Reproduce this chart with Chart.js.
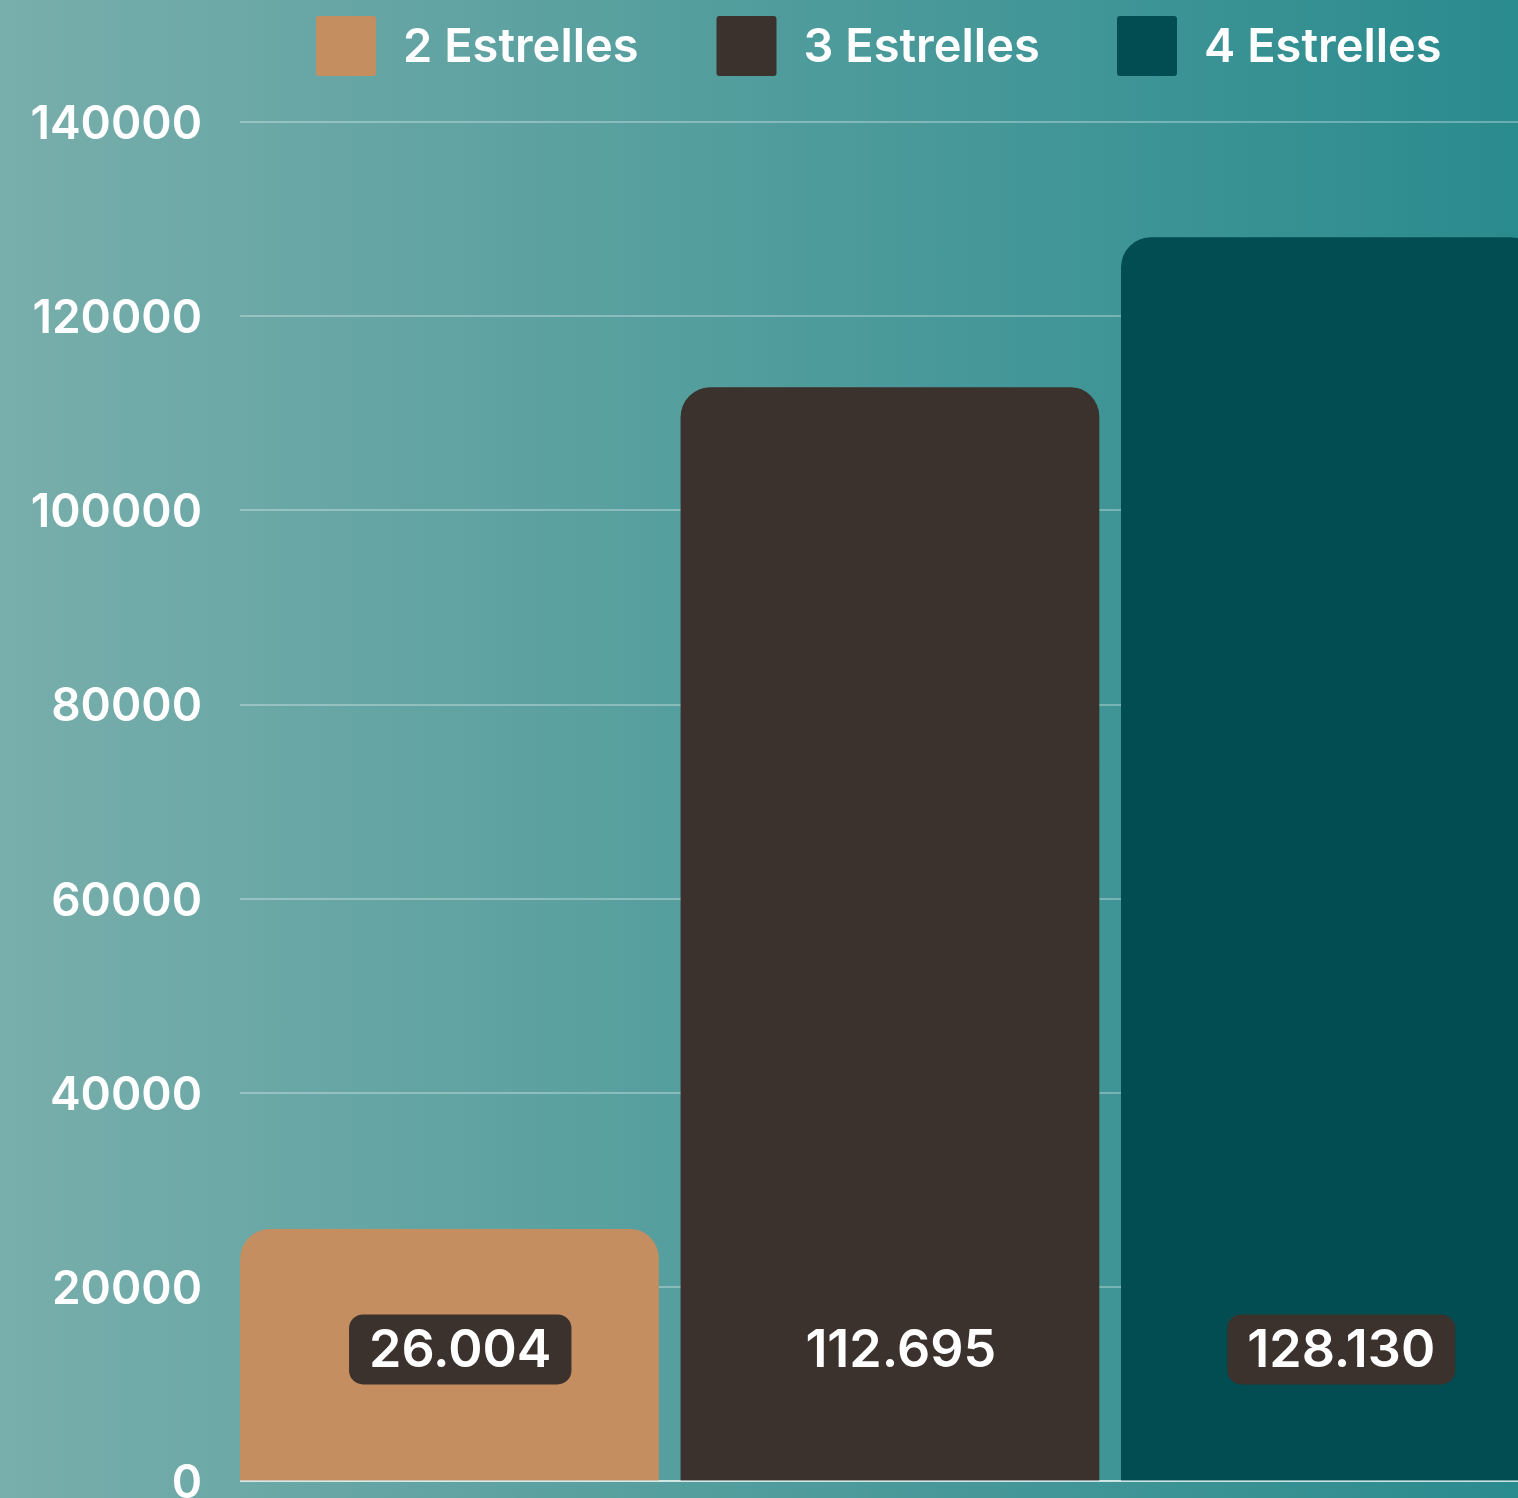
<!DOCTYPE html>
<html>
<head>
<meta charset="utf-8">
<script src="https://cdn.jsdelivr.net/npm/chart.js@4.4.1/dist/chart.umd.min.js"></script>
<style>
  html, body { margin: 0; padding: 0; overflow: hidden; }
  body {
    width: 1518px;
    height: 1498px;
    background: linear-gradient(to right, #78aeab, #2a8b8e);
  }
  canvas { display: block; }
</style>
</head>
<body>
<canvas id="chart" width="1570" height="1547"></canvas>
<script>
const categories = [""];
const seriesNames = ["2 Estrelles", "3 Estrelles", "4 Estrelles"];
const seriesValues = [26004, 112695, 128130];
const seriesLabels = ["26.004", "112.695", "128.130"];
const seriesColors = ["#c48e60", "#3b312d", "#024d51"];
const yTicks = [0, 20000, 40000, 60000, 80000, 100000, 120000, 140000];

const FONT = "Inter, 'Noto Sans', sans-serif";

// legend drawn by hand so the spacing matches
const legendPlugin = {
  id: "customLegend",
  afterDraw(chart) {
    const { ctx } = chart;
    ctx.save();
    ctx.font = "600 47px " + FONT;
    ctx.textBaseline = "middle";
    let x = 316;
    chart.data.datasets.forEach((ds) => {
      ctx.fillStyle = ds.backgroundColor;
      ctx.beginPath();
      ctx.roundRect(x, 16, 60, 60, 3);
      ctx.fill();
      ctx.fillStyle = "#ffffff";
      ctx.fillText(ds.label, x + 87, 48);
      x += 400.5;
    });
    ctx.restore();
  }
};

// value badges near the bottom of each bar
const badgePlugin = {
  id: "badges",
  afterDatasetsDraw(chart) {
    const { ctx } = chart;
    const base = chart.scales.y.getPixelForValue(0);
    ctx.save();
    ctx.font = "600 52px " + FONT;
    ctx.textAlign = "center";
    ctx.textBaseline = "middle";
    chart.data.datasets.forEach((ds, i) => {
      const bar = chart.getDatasetMeta(i).data[0];
      const text = seriesLabels[i];
      const w = ctx.measureText(text).width + 40;
      const cx = bar.x;
      const cy = base - 132;
      ctx.fillStyle = "#3b312d";
      ctx.beginPath();
      ctx.roundRect(cx - w / 2, cy - 35, w, 70, 14);
      ctx.fill();
      ctx.fillStyle = "#ffffff";
      ctx.fillText(text, cx, cy + 2);
    });
    ctx.restore();
  }
};

const datasets = seriesNames.map((name, i) => ({
  label: name,
  data: [seriesValues[i]],
  backgroundColor: seriesColors[i],
  borderColor: "rgba(0,0,0,0)",
  borderWidth: { top: 0, right: 22, bottom: 0, left: 0 },
  borderSkipped: false,
  borderRadius: { topLeft: 30, topRight: 52, bottomLeft: 0, bottomRight: 0 },
  categoryPercentage: 1,
  barPercentage: 1
}));

new Chart(document.getElementById("chart"), {
  type: "bar",
  data: { labels: categories, datasets },
  options: {
    responsive: false,
    animation: false,
    layout: { padding: { top: 122, right: 8.5, bottom: 28, left: 0 } },
    plugins: {
      legend: { display: false },
      tooltip: { enabled: false }
    },
    scales: {
      x: { display: false },
      y: {
        min: 0,
        max: 140000,
        afterBuildTicks(scale) {
          scale.ticks = yTicks.map((v) => ({ value: v }));
        },
        afterFit(scale) {
          scale.width = 240;
        },
        ticks: {
          padding: 38,
          labelOffset: 3,
          color: "#ffffff",
          font: { family: FONT, size: 46, weight: "600" },
          callback: (v) => String(v)
        },
        grid: {
          drawTicks: false,
          lineWidth: 2,
          color: (c) => (c.tick && c.tick.value === 0 ? "rgba(255,255,255,0.75)" : "rgba(255,255,255,0.3)")
        },
        border: { display: false }
      }
    }
  },
  plugins: [legendPlugin, badgePlugin]
});
</script>
</body>
</html>
